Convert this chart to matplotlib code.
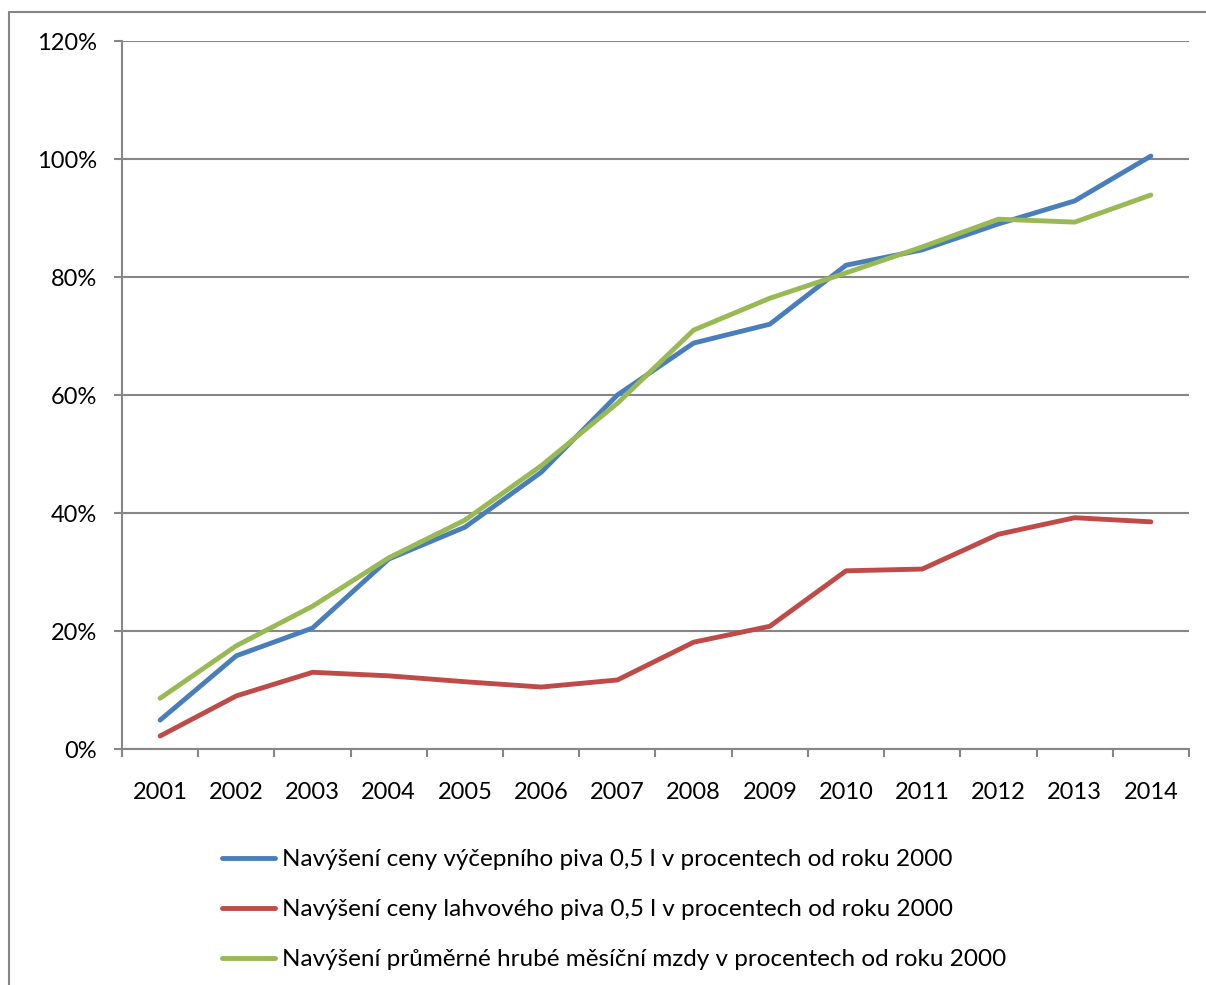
import numpy as np
import matplotlib.pyplot as plt
from matplotlib.patches import Rectangle
from matplotlib.ticker import FuncFormatter

# Data (percent increase since 2000)
years = ['2001', '2002', '2003', '2004', '2005', '2006', '2007',
         '2008', '2009', '2010', '2011', '2012', '2013', '2014']
draught_beer = [4.9, 15.8, 20.5, 32.2, 37.6, 46.9, 60.0,
                68.8, 72.0, 82.0, 84.6, 89.0, 92.9, 100.5]
bottled_beer = [2.2, 9.0, 13.0, 12.4, 11.4, 10.5, 11.7,
                18.1, 20.8, 30.2, 30.5, 36.4, 39.2, 38.5]
avg_wage = [8.6, 17.5, 24.2, 32.4, 38.8, 48.0, 58.6,
            71.0, 76.4, 80.7, 85.1, 89.8, 89.3, 93.9]
labels = ['Navýšení ceny výčepního piva 0,5 l v procentech od roku 2000',
          'Navýšení ceny lahvového piva 0,5 l v procentech od roku 2000',
          'Navýšení průměrné hrubé měsíční mzdy v procentech od roku 2000']
colors = ['#4A7EBB', '#BE4B48', '#98B954']

plt.rcParams['font.family'] = ['Lato', 'DejaVu Sans']
grey = '#868686'
fs = 17

W, H = 1206, 985
fig = plt.figure(figsize=(W / 100, H / 100), dpi=100)
ax = fig.add_axes([122 / W, (H - 749) / H, (1189 - 122) / W, (749 - 41) / H])

x = np.arange(1, len(years) + 1)
for vals, lab, col in zip([draught_beer, bottled_beer, avg_wage], labels, colors):
    ax.plot(x, vals, color=col, lw=3.5, label=lab, solid_capstyle='round',
            solid_joinstyle='round')

ax.set_xlim(0.5, len(years) + 0.5)
ax.set_ylim(0, 120)
ax.set_yticks(np.arange(0, 121, 20))
ax.yaxis.set_major_formatter(FuncFormatter(lambda v, p: f'{v:.0f}%'))
ax.grid(axis='y', color=grey, lw=1.5)
ax.set_axisbelow(True)

# ticks at category boundaries, labels at centres
ax.set_xticks(np.arange(0.5, len(years) + 1, 1))
ax.set_xticklabels([])
ax.set_xticks(x, minor=True)
ax.set_xticklabels(years, minor=True)
ax.tick_params(axis='x', which='major', length=6, width=1.5, color=grey)
ax.tick_params(axis='x', which='minor', length=0, pad=24, labelsize=fs)
ax.tick_params(axis='y', length=6, width=1.5, color=grey, pad=12, labelsize=fs)

for s in ['top', 'right']:
    ax.spines[s].set_visible(False)
for s in ['left', 'bottom']:
    ax.spines[s].set_color(grey)
    ax.spines[s].set_linewidth(1.5)

fig.legend(loc='upper left', bbox_to_anchor=(222 / W, 1 - 849 / H),
           frameon=False, fontsize=17.5, handlelength=2.2, handletextpad=0.25,
           labelspacing=1.2, borderpad=0, borderaxespad=0)

# outer chart frame (cut off at the right and bottom)
fig.add_artist(Rectangle((9 / W, -0.1), 1.2, 1.1 - 12 / H, transform=fig.transFigure,
                         fill=False, edgecolor=grey, lw=1.5))

fig.savefig('out.png', dpi=100)
